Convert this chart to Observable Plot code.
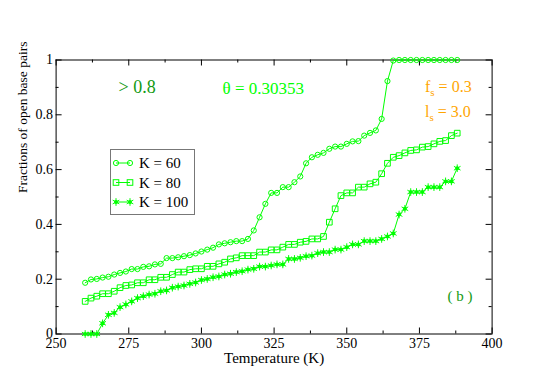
<!DOCTYPE html>
<html><head><meta charset="utf-8">
<script src="https://cdn.jsdelivr.net/npm/d3@7"></script>
<script src="https://cdn.jsdelivr.net/npm/@observablehq/plot@0.6"></script>
<style>
html,body{margin:0;padding:0;background:#fff;}
#wrap{position:relative;width:540px;height:382px;font-family:"Liberation Serif","Tinos","Times New Roman","Nimbus Roman","DejaVu Serif",serif;}
.ann{position:absolute;white-space:nowrap;line-height:1;font-size:16px;color:#ffa500;font-family:"Liberation Serif","Tinos","Times New Roman","Nimbus Roman","DejaVu Serif",serif;}
.ann sub{font-size:11px;vertical-align:-4px;line-height:0;}
#legend{position:absolute;left:0;top:0;pointer-events:none;}
</style></head><body><div id="wrap"></div>
<script>
// ---- data ----
const temps = [260,262,264,266,268,270,272,274,276,278,280,282,284,286,288,290,292,294,296,298,
  300,302,304,306,308,310,312,314,316,318,320,322,324,326,328,330,332,334,336,338,
  340,342,344,346,348,350,352,354,356,358,360,362,364,366,368,370,372,374,376,378,
  380,382,384,386,388];
const k60 = [0.187,0.199,0.201,0.206,0.209,0.217,0.223,0.228,0.237,0.237,0.245,0.247,0.254,0.256,0.277,0.277,0.280,0.284,0.288,0.294,
  0.301,0.308,0.315,0.327,0.331,0.335,0.339,0.339,0.347,0.378,0.426,0.475,0.515,0.515,0.536,0.536,0.554,0.575,0.623,0.645,
  0.654,0.661,0.676,0.684,0.684,0.694,0.703,0.704,0.724,0.734,0.743,0.785,0.923,0.998,1.0,1.0,1.0,1.0,1.0,1.0,
  1.0,1.0,1.0,1.0,1.0];
const k80 = [0.119,0.131,0.138,0.147,0.147,0.156,0.169,0.177,0.179,0.187,0.187,0.198,0.198,0.207,0.207,0.217,0.226,0.226,0.235,0.238,
  0.238,0.247,0.247,0.256,0.262,0.274,0.278,0.286,0.286,0.286,0.299,0.299,0.307,0.307,0.317,0.327,0.327,0.335,0.338,0.347,
  0.347,0.356,0.408,0.457,0.505,0.515,0.515,0.536,0.536,0.548,0.554,0.585,0.623,0.645,0.651,0.661,0.670,0.672,0.682,0.684,
  0.694,0.703,0.706,0.724,0.733];
const k100 = [0,0,0,0.039,0.070,0.077,0.098,0.108,0.119,0.131,0.138,0.144,0.147,0.156,0.159,0.169,0.173,0.177,0.183,0.188,
  0.197,0.201,0.207,0.210,0.217,0.220,0.226,0.229,0.235,0.238,0.246,0.246,0.250,0.254,0.254,0.274,0.274,0.278,0.284,0.286,
  0.295,0.299,0.299,0.308,0.308,0.317,0.327,0.327,0.339,0.339,0.339,0.347,0.356,0.367,0.436,0.457,0.518,0.518,0.518,0.536,
  0.536,0.536,0.557,0.557,0.605];
const seriesNames = ["K = 60","K = 80","K = 100"];
const xMajor = [250,275,300,325,350,375,400];
const xMinor = [262.5,287.5,312.5,337.5,362.5,387.5];
const yMajor = [0,0.2,0.4,0.6,0.8,1];
const yMinor = [0.1,0.3,0.5,0.7,0.9];
const xTitle = "Temperature (K)";
const yTitle = "Fractions of open base pairs";

// ---- layout ----
const FONT = "'Liberation Serif','Tinos','Times New Roman','Nimbus Roman','DejaVu Serif',serif";
const W = 540, H = 382, ML = 55.6, MR = 48.4, MT = 59.5, MB = 48.5;
const PH = H - MT - MB, PW = W - ML - MR;
const GREEN = "#00ff00", DKGREEN = "#139a13", ORANGE = "#ffa500";
const rows = s => temps.map((t, i) => ({t, v: s[i]}));

const chart = Plot.plot({
  width: W, height: H,
  marginLeft: ML, marginRight: MR, marginTop: MT, marginBottom: MB,
  x: {domain: [250, 400]},
  y: {domain: [0, 1]},
  style: {fontFamily: FONT, fontSize: "14px", background: "white", color: "black", overflow: "visible"},
  marks: [
    Plot.frame({stroke: "black", strokeWidth: 1}),
    Plot.tickX(xMajor, {x: d => d, insetTop: PH - 6, stroke: "black"}),
    Plot.tickX(xMajor, {x: d => d, insetBottom: PH - 6, stroke: "black"}),
    Plot.tickX(xMinor, {x: d => d, insetTop: PH - 3, stroke: "black"}),
    Plot.tickX(xMinor, {x: d => d, insetBottom: PH - 3, stroke: "black"}),
    Plot.tickY(yMajor, {y: d => d, insetRight: PW - 6, stroke: "black"}),
    Plot.tickY(yMajor, {y: d => d, insetLeft: PW - 6, stroke: "black"}),
    Plot.tickY(yMinor, {y: d => d, insetRight: PW - 3, stroke: "black"}),
    Plot.tickY(yMinor, {y: d => d, insetLeft: PW - 3, stroke: "black"}),
    Plot.axisX({ticks: xMajor, tickSize: 0, tickPadding: 4, tickFormat: d => String(d), label: null, fontFamily: FONT, fontSize: 14}),
    Plot.axisY({ticks: yMajor, tickSize: 0, tickPadding: 3, tickFormat: d => String(d), label: null, fontFamily: FONT, fontSize: 14}),
    Plot.line(rows(k60), {x: "t", y: "v", stroke: GREEN, strokeWidth: 1}),
    Plot.line(rows(k80), {x: "t", y: "v", stroke: GREEN, strokeWidth: 1}),
    Plot.line(rows(k100), {x: "t", y: "v", stroke: GREEN, strokeWidth: 1}),
    Plot.dot(rows(k60), {x: "t", y: "v", symbol: "circle", r: 2.6, stroke: GREEN, fill: "none", strokeWidth: 1}),
    Plot.dot(rows(k80), {x: "t", y: "v", symbol: "square", r: 3.2, stroke: GREEN, fill: "none", strokeWidth: 1}),
    Plot.dot(rows(k100), {x: "t", y: "v", symbol: "circle", r: 2, fill: GREEN, stroke: "none"}),
    Plot.dot(rows(k100), {x: "t", y: "v", symbol: "asterisk", r: 3.6, stroke: GREEN, strokeWidth: 1}),
    Plot.text([xTitle], {frameAnchor: "bottom", dy: 24.5, fontSize: 15, fontFamily: FONT, lineAnchor: "middle", fill: "black"}),
    Plot.text([yTitle], {frameAnchor: "left", dx: -(ML - 22), dy: -4, rotate: -90, fontSize: 13.5, fontFamily: FONT, lineAnchor: "middle", fill: "black"}),
    Plot.text(["> 0.8"], {frameAnchor: "top-left", dx: 118 - ML, dy: 86.5 - MT, textAnchor: "start", lineAnchor: "middle", fontSize: 18, fontFamily: FONT, fill: DKGREEN}),
    Plot.text(["θ = 0.30353"], {frameAnchor: "top-left", dx: 222 - ML, dy: 88.3 - MT, textAnchor: "start", lineAnchor: "middle", fontSize: 17, fontFamily: FONT, fill: GREEN}),
    Plot.text(["( b )"], {frameAnchor: "top-left", dx: 447 - ML, dy: 296 - MT, textAnchor: "start", lineAnchor: "middle", fontSize: 15, fontFamily: FONT, fill: DKGREEN})
  ]
});
const wrap = document.getElementById("wrap");
wrap.appendChild(chart);

// fs / ls annotations with subscripts
const fs = document.createElement("div");
fs.className = "ann"; fs.style.left = "425px"; fs.style.top = "78.6px";
fs.innerHTML = "f<sub>s</sub> = 0.3";
wrap.appendChild(fs);
const ls = document.createElement("div");
ls.className = "ann"; ls.style.left = "425px"; ls.style.top = "104px";
ls.innerHTML = "l<sub>s</sub> = 3.0";
wrap.appendChild(ls);

// legend
const lg = d3.select(wrap).append("svg").attr("id", "legend").attr("width", W).attr("height", H);
lg.append("rect").attr("x", 110.5).attr("y", 149.5).attr("width", 84).attr("height", 65)
  .attr("fill", "white").attr("stroke", "#777").attr("stroke-width", 1);
const ys = [163, 182.5, 202];
const sym = [
  g => g.append("circle").attr("r", 2.6).attr("fill", "none").attr("stroke", GREEN),
  g => g.append("rect").attr("x", -2.8).attr("y", -2.8).attr("width", 5.6).attr("height", 5.6).attr("fill", "none").attr("stroke", GREEN),
  g => { g.append("circle").attr("r", 2).attr("fill", GREEN);
         g.append("path").attr("d", d3.symbol(d3.symbolAsterisk, 3.6*3.6*Math.PI)()).attr("stroke", GREEN).attr("fill", "none"); }
];
seriesNames.forEach((name, i) => {
  const y = ys[i];
  lg.append("line").attr("x1", 116).attr("x2", 130).attr("y1", y).attr("y2", y).attr("stroke", GREEN);
  [116, 130].forEach(x => sym[i](lg.append("g").attr("transform", `translate(${x},${y})`)));
  lg.append("text").attr("x", 139).attr("y", y).attr("dy", "0.34em")
    .style("font-family", FONT).attr("font-size", 15).attr("fill", "black").text(name);
});
</script></body></html>
